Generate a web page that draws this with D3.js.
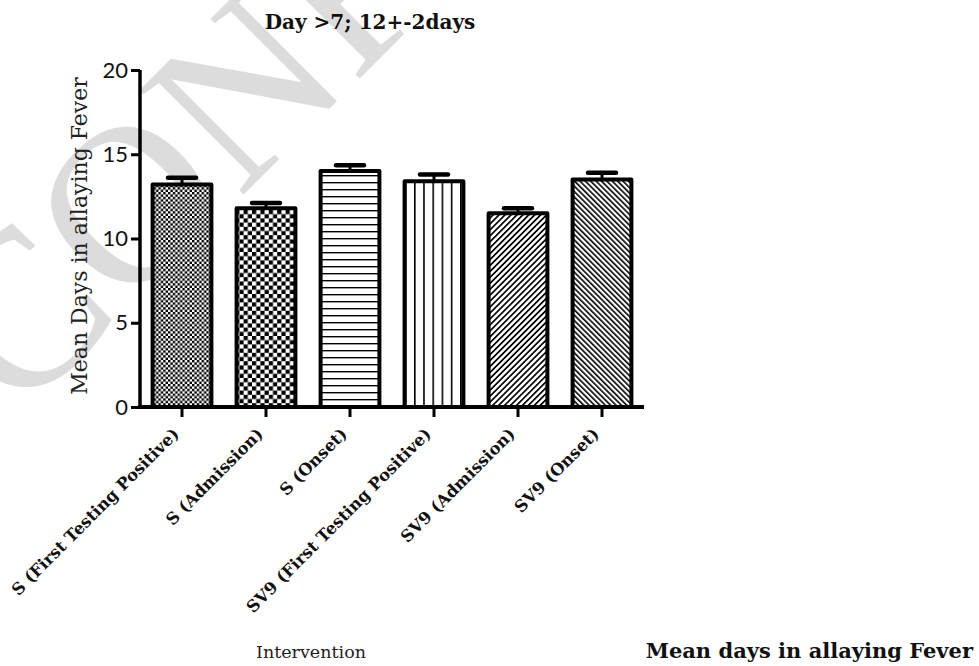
<!DOCTYPE html>
<html>
<head>
<meta charset="utf-8">
<script src="https://cdn.jsdelivr.net/npm/d3@7/dist/d3.min.js"></script>
<style>
  html, body { margin: 0; padding: 0; background: #fff; }
  svg { display: block; }
</style>
</head>
<body>
<svg id="chart" width="979" height="666"></svg>
<script>
// Mean days in allaying fever, by intervention group
const categories = [
  "S (First Testing Positive)",
  "S (Admission)",
  "S (Onset)",
  "SV9 (First Testing Positive)",
  "SV9 (Admission)",
  "SV9 (Onset)"
];
const meanDays = [13.2, 11.8, 14.0, 13.4, 11.5, 13.5];
const semDays = [0.4, 0.3, 0.35, 0.4, 0.3, 0.4];
const yTickValues = [0, 5, 10, 15, 20];
const patternKinds = ["fineCheck", "coarseCheck", "hLines", "vLines", "diagUp", "diagDown"];

const svg = d3.select("#chart");
const serif = "'DejaVu Serif', 'Liberation Serif', serif";
const sans = "Lato, 'DejaVu Sans', sans-serif";

// ---- fill patterns ----
const defs = svg.append("defs");
function addPattern(id, w, h, draw, transform) {
  const p = defs.append("pattern")
    .attr("id", id)
    .attr("patternUnits", "userSpaceOnUse")
    .attr("width", w).attr("height", h);
  if (transform) p.attr("patternTransform", transform);
  p.append("rect").attr("width", w).attr("height", h).attr("fill", "#fff");
  draw(p);
}
addPattern("fineCheck", 4.8, 4.8, p => {
  p.append("rect").attr("x", 0).attr("y", 0).attr("width", 2.4).attr("height", 2.4).attr("fill", "#000");
  p.append("rect").attr("x", 2.4).attr("y", 2.4).attr("width", 2.4).attr("height", 2.4).attr("fill", "#000");
});
addPattern("coarseCheck", 8.4, 8.4, p => {
  p.append("rect").attr("x", 0).attr("y", 0).attr("width", 4.2).attr("height", 4.2).attr("fill", "#000");
  p.append("rect").attr("x", 4.2).attr("y", 4.2).attr("width", 4.2).attr("height", 4.2).attr("fill", "#000");
});
addPattern("hLines", 10, 7, p => {
  p.append("rect").attr("x", 0).attr("y", 0).attr("width", 10).attr("height", 1.4).attr("fill", "#000");
});
addPattern("vLines", 9.2, 10, p => {
  p.append("rect").attr("x", 0).attr("y", 0).attr("width", 1.6).attr("height", 10).attr("fill", "#000");
});
addPattern("diagUp", 4.2, 10, p => {
  p.append("rect").attr("x", 0).attr("y", 0).attr("width", 1.7).attr("height", 10).attr("fill", "#000");
}, "rotate(45)");
addPattern("diagDown", 3.8, 10, p => {
  p.append("rect").attr("x", 0).attr("y", 0).attr("width", 1.6).attr("height", 10).attr("fill", "#000");
}, "rotate(-45)");

// ---- watermark ----
svg.append("text")
  .attr("transform", "translate(18,420) rotate(-45)")
  .attr("font-family", "'Liberation Serif', 'DejaVu Serif', serif")
  .attr("font-size", 225)
  .attr("fill", "#dcdcdc")
  .text("CONFIDENTIAL");

// ---- scales ----
const x = d3.scaleBand()
  .domain(categories)
  .range([140, 644])
  .paddingInner(0.3)
  .paddingOuter(0.15);
const y = d3.scaleLinear().domain([0, 20]).range([407, 70]);

// ---- bars ----
const bars = svg.append("g");
bars.selectAll("rect")
  .data(categories)
  .join("rect")
  .attr("x", d => x(d))
  .attr("y", (d, i) => y(meanDays[i]))
  .attr("width", x.bandwidth())
  .attr("height", (d, i) => y(0) - y(meanDays[i]))
  .attr("fill", (d, i) => `url(#${patternKinds[i]})`)
  .attr("stroke", "#000")
  .attr("stroke-width", 4)
  .attr("stroke-linejoin", "round");

// ---- error bars (mean + SEM) ----
const err = svg.append("g").attr("stroke", "#000").attr("stroke-linecap", "round");
categories.forEach((c, i) => {
  const cx = x(c) + x.bandwidth() / 2;
  err.append("line")
    .attr("x1", cx).attr("x2", cx)
    .attr("y1", y(meanDays[i])).attr("y2", y(meanDays[i] + semDays[i]))
    .attr("stroke-width", 3);
  err.append("line")
    .attr("x1", cx - 14).attr("x2", cx + 14)
    .attr("y1", y(meanDays[i] + semDays[i])).attr("y2", y(meanDays[i] + semDays[i]))
    .attr("stroke-width", 4.5);
});

// ---- axes ----
const yAxis = svg.append("g")
  .attr("transform", "translate(140,0)")
  .call(d3.axisLeft(y).tickValues(yTickValues).tickSize(9).tickPadding(3).tickFormat(d3.format("d")));
yAxis.select(".domain").attr("d", `M0,${y(20)}V${y(0) + 1}`).attr("stroke-width", 3.5);
yAxis.selectAll(".tick line").attr("stroke-width", 3);
yAxis.selectAll(".tick text")
  .attr("font-family", sans)
  .attr("font-weight", 400)
  .attr("font-size", 22)
  .attr("fill", "#111");

const xAxis = svg.append("g")
  .attr("transform", `translate(0,${y(0)})`)
  .call(d3.axisBottom(x).tickSize(10).tickSizeOuter(0));
xAxis.select(".domain").attr("d", "M138,0H644").attr("stroke-width", 4);
xAxis.selectAll(".tick line").attr("stroke-width", 3);
xAxis.selectAll(".tick text")
  .attr("font-family", serif)
  .attr("font-weight", "bold")
  .attr("font-size", 16.5)
  .attr("fill", "#111")
  .attr("text-anchor", "end")
  .attr("dy", 0)
  .attr("transform", "translate(-2,28) rotate(-45)")
  .attr("y", 0)
  .attr("x", 0);

// ---- titles ----
svg.append("text")
  .attr("x", 370).attr("y", 29)
  .attr("text-anchor", "middle")
  .attr("font-family", serif)
  .attr("font-weight", "bold")
  .attr("font-size", 20)
  .attr("fill", "#111")
  .text("Day >7; 12+-2days");

svg.append("text")
  .attr("transform", "translate(87,236) rotate(-90)")
  .attr("text-anchor", "middle")
  .attr("font-family", serif)
  .attr("font-size", 22)
  .attr("fill", "#222")
  .text("Mean Days in allaying Fever");

svg.append("text")
  .attr("x", 311).attr("y", 658)
  .attr("text-anchor", "middle")
  .attr("font-family", serif)
  .attr("font-size", 17.5)
  .attr("fill", "#222")
  .text("Intervention");

svg.append("text")
  .attr("x", 973).attr("y", 658)
  .attr("text-anchor", "end")
  .attr("font-family", serif)
  .attr("font-weight", "bold")
  .attr("font-size", 21)
  .attr("fill", "#111")
  .text("Mean days in allaying Fever");
</script>
</body>
</html>
